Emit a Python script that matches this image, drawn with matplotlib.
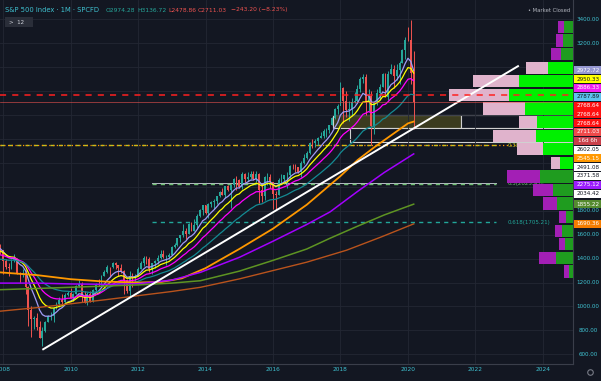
import numpy as np
import pandas as pd
import matplotlib
matplotlib.use("Agg")
import matplotlib.pyplot as plt
from matplotlib.patches import Rectangle
from matplotlib.lines import Line2D

# S&P 500 CFD, monthly bars Jan 2006 .. Mar 2020 (last bar still open)
start_year = 2006
prev_close_2005 = 1248.3
last_open = 2974.28
closes = [1280.1, 1280.7, 1294.8, 1310.6, 1270.1, 1270.2, 1276.7, 1303.8, 1335.9, 1377.9, 1400.6, 1418.3,
          1438.2, 1406.8, 1420.9, 1482.4, 1530.6, 1503.4, 1455.3, 1474.0, 1526.8, 1549.4, 1481.1, 1468.4,
          1378.6, 1330.6, 1322.7, 1385.6, 1400.4, 1280.0, 1267.4, 1282.8, 1166.4, 968.8, 896.2, 903.3,
          825.9, 735.1, 797.9, 872.8, 919.1, 919.3, 987.5, 1020.6, 1057.1, 1036.2, 1095.6, 1115.1,
          1073.9, 1104.5, 1169.4, 1186.7, 1089.4, 1030.7, 1101.6, 1049.3, 1141.2, 1183.3, 1180.6, 1257.6,
          1286.1, 1327.2, 1325.8, 1363.6, 1345.2, 1320.6, 1292.3, 1218.9, 1131.4, 1253.3, 1247.0, 1257.6,
          1312.4, 1365.7, 1408.5, 1397.9, 1310.3, 1362.2, 1379.3, 1406.6, 1440.7, 1412.2, 1416.2, 1426.2,
          1498.1, 1514.7, 1569.2, 1597.6, 1630.7, 1606.3, 1685.7, 1633.0, 1681.6, 1756.5, 1805.8, 1848.4,
          1782.6, 1859.5, 1872.3, 1884.0, 1923.6, 1960.2, 1930.7, 2003.4, 1972.3, 2018.1, 2067.6, 2058.9,
          1995.0, 2104.5, 2067.9, 2085.5, 2107.4, 2063.1, 2103.8, 1972.2, 1920.0, 2079.4, 2080.4, 2043.9,
          1940.2, 1932.2, 2059.7, 2065.3, 2097.0, 2098.9, 2173.6, 2171.0, 2168.3, 2126.2, 2198.8, 2238.8,
          2278.9, 2363.6, 2362.7, 2384.2, 2411.8, 2423.4, 2470.3, 2471.7, 2519.4, 2575.3, 2647.6, 2673.6,
          2823.8, 2713.8, 2640.9, 2648.1, 2705.3, 2718.4, 2816.3, 2901.5, 2914.0, 2711.7, 2760.2, 2506.9,
          2704.1, 2784.5, 2834.4, 2945.8, 2752.1, 2941.8, 2980.4, 2926.5, 2976.7, 3037.6, 3141.0, 3230.8,
          3225.5, 2954.2, 2711.03]
highs = [1295, 1297, 1310, 1318, 1326, 1284, 1280, 1310, 1340, 1389, 1407, 1431,
         1441, 1461, 1438, 1499, 1535, 1541, 1556, 1503, 1538, 1576, 1553, 1523,
         1471, 1396, 1359, 1397, 1440, 1404, 1292, 1313, 1304, 1168, 1007, 919,
         944, 876, 832, 878, 930, 956, 996, 1040, 1080, 1101, 1113, 1130,
         1150, 1113, 1181, 1220, 1206, 1132, 1120, 1129, 1149, 1196, 1228, 1263,
         1303, 1345, 1333, 1370, 1371, 1346, 1357, 1307, 1230, 1293, 1277, 1269,
         1333, 1378, 1419, 1423, 1415, 1364, 1392, 1426, 1475, 1470, 1434, 1448,
         1509, 1530, 1570, 1598, 1687, 1654, 1698, 1709, 1730, 1775, 1814, 1849,
         1850, 1867, 1884, 1897, 1925, 1968, 1991, 2005, 2019, 2019, 2075, 2093,
         2064, 2120, 2118, 2126, 2135, 2130, 2133, 2113, 2021, 2094, 2117, 2104,
         2038, 1963, 2073, 2111, 2100, 2121, 2178, 2194, 2188, 2169, 2214, 2278,
         2301, 2371, 2401, 2398, 2418, 2454, 2484, 2491, 2520, 2582, 2657, 2695,
         2873, 2835, 2801, 2718, 2742, 2791, 2848, 2916, 2941, 2940, 2815, 2800,
         2708, 2814, 2861, 2949, 2954, 2964, 3028, 3014, 3022, 3050, 3154, 3248,
         3338, 3393, 3136.72]
lows = [1245, 1253, 1268, 1280, 1245, 1219, 1224, 1261, 1291, 1327, 1360, 1385,
        1403, 1389, 1364, 1416, 1479, 1484, 1440, 1371, 1439, 1489, 1407, 1435,
        1270, 1316, 1257, 1312, 1373, 1272, 1200, 1248, 1107, 840, 741, 815,
        805, 735, 666, 783, 866, 889, 869, 978, 992, 1020, 1029, 1086,
        1071, 1045, 1101, 1165, 1040, 1029, 1011, 1040, 1039, 1132, 1174, 1174,
        1257, 1282, 1249, 1320, 1312, 1258, 1283, 1101, 1115, 1075, 1159, 1202,
        1257, 1312, 1341, 1358, 1292, 1267, 1325, 1355, 1397, 1403, 1343, 1399,
        1426, 1485, 1501, 1536, 1581, 1560, 1605, 1627, 1633, 1646, 1746, 1768,
        1770, 1737, 1834, 1814, 1860, 1915, 1930, 1905, 1964, 1821, 2001, 1973,
        1988, 1981, 2040, 2048, 2067, 2056, 2044, 1867, 1872, 1893, 2019, 1993,
        1812, 1810, 1932, 2034, 2026, 1992, 2074, 2148, 2120, 2114, 2084, 2187,
        2234, 2271, 2322, 2329, 2352, 2405, 2407, 2417, 2446, 2515, 2566, 2605,
        2683, 2533, 2585, 2553, 2595, 2698, 2699, 2796, 2864, 2603, 2631, 2347,
        2444, 2682, 2722, 2834, 2751, 2729, 2940, 2822, 2892, 2855, 3036, 3070,
        3215, 2855, 2478.86]

# short EMAs computed from the closes
ema_spans = [8, 13, 21, 34]
ema_colors = ['#a09cf5', '#ffff00', '#ff00ff', '#148b93']

# long EMAs (time in years, price)
ema55_x = [2007.9, 2009.0, 2010.0, 2011.0, 2012.0, 2012.7, 2013.3, 2014.0, 2015.0, 2016.0, 2017.0, 2018.0, 2018.5, 2019.0, 2019.5, 2020.0, 2020.17]
ema55_y = [1285, 1262, 1228, 1208, 1200, 1205, 1235, 1320, 1480, 1650, 1850, 2090, 2222, 2330, 2430, 2530, 2545]
ema89_x = [2007.9, 2009.0, 2010.0, 2011.0, 2012.0, 2013.0, 2013.85, 2015.0, 2016.0, 2017.0, 2017.69, 2018.5, 2019.3, 2020.17]
ema89_y = [1195, 1195, 1188, 1185, 1190, 1220, 1285, 1410, 1545, 1685, 1790, 1960, 2120, 2275]
ema144_x = [2007.9, 2009.0, 2010.0, 2011.0, 2012.0, 2013.0, 2013.85, 2015.0, 2016.0, 2017.0, 2017.69, 2018.5, 2019.3, 2020.17]
ema144_y = [1140, 1150, 1160, 1170, 1180, 1195, 1215, 1295, 1385, 1480, 1570, 1670, 1765, 1855]
ema200_x = [2007.9, 2009.0, 2010.0, 2011.0, 2012.0, 2013.0, 2013.85, 2015.0, 2016.0, 2017.0, 2018.18, 2019.2, 2020.17]
ema200_y = [960, 990, 1022, 1055, 1090, 1125, 1160, 1230, 1300, 1370, 1470, 1580, 1690]

# drawings
trend_x = [2009.19, 2023.26]
trend_y = [642, 3008]
red_level = 2768.64
fib_names = ['0.382', '0.5', '0.618']
fib_prices = [2346.72, 2025.95, 1705.21]
fib_colors = ['#b7c92c', '#6cc070', '#22a699']
fib_x = [2012.4, 2022.6]
dec18_low = 2346.58
hline_2034 = 2034.42
box1 = (2017.78, 2021.57, 2491.08, 2602.05)
box2 = (2018.28, 2491.08, 2371.58)

# visible range volume profile (24 rows from the 2009 low to the 2020 high)
vp_low = 666.79
vp_row = 113.6
vp_rows = list(range(5, 24))
vp_up = [4, 17, 8, 11, 7, 16, 20, 33, 13, 30, 37, 36, 48, 64, 54, 25, 12, 10, 9]
vp_down = [5, 17, 6, 7, 7, 14, 20, 33, 9, 26, 43, 18, 42, 60, 46, 22, 10, 7, 6]
vp_in_va = [0, 0, 0, 0, 0, 0, 0, 0, 1, 1, 1, 1, 1, 1, 1, 1, 0, 0, 0]

# price scale labels
label_vals = [2972.72, 2950.33, 2886.33, 2787.89, 2768.64, 2768.64, 2768.64, 2711.03,
              2602.05, 2545.15, 2491.08, 2371.58, 2275.12, 2034.42, 1855.22, 1690.36]
label_bg = ['#9698d2', '#ffff00', '#f01ff0', '#5cc3ee', '#ff1010', '#ff1010', '#ff1010', '#ef4a4a',
            '#ffffff', '#ff9800', '#ffffff', '#ffffff', '#9b1cff', '#ffffff', '#558b2f', '#f57c00']
label_fg = ['white', '#131722', 'white', '#131722', 'white', 'white', 'white', 'white',
            '#131722', 'white', '#131722', '#131722', 'white', '#131722', 'white', 'white']
countdown = '16d 6h'

bg = '#131722'
grid_c = '#232733'
axis_txt = '#3fc1d0'
W, H = 601, 381
lab_fs = 4.1

n = len(closes)
x = start_year + np.arange(n) / 12
o = np.array([prev_close_2005] + closes[:-1])
o[-1] = last_open
c = np.array(closes)
hi = np.array(highs, dtype=float)
lo = np.array(lows, dtype=float)

fig = plt.figure(figsize=(W / 100, H / 100), dpi=100, facecolor=bg)
ax = fig.add_axes([0, 17 / H, 573 / W, 364 / H])
ax.set_facecolor(bg)
ax.set_xlim(2007.91, 2024.89)
ax.set_ylim(519, 3561)
ax.set_xticks(range(2008, 2025, 2))
ax.set_yticks(range(600, 3600, 200))
ax.grid(True, color=grid_c, lw=0.6, zorder=0)
ax.tick_params(length=0, labelsize=4.2, labelcolor=axis_txt, pad=2.5)
ax.tick_params(axis='y', labelleft=False)
for s in ['top', 'left']:
    ax.spines[s].set_visible(False)
for s in ['right', 'bottom']:
    ax.spines[s].set_color('#3a3e4a')
    ax.spines[s].set_linewidth(0.8)

# rectangles
ax.add_patch(Rectangle((box1[0], box1[2]), box1[1] - box1[0], box1[3] - box1[2],
                       fc='#3b3b1f', ec='#d0d0d0', lw=0.8, zorder=1))
ax.add_patch(Rectangle((box1[1], box1[2]), 2024.89 - box1[1], box1[3] - box1[2],
                       fc=bg, ec='#d0d0d0', lw=0.8, zorder=1))
ax.add_patch(Rectangle((box2[0], box2[2]), 2024.89 - box2[0], box2[1] - box2[2],
                       fc=bg, ec='#d0d0d0', lw=0.8, zorder=1))

# fib levels and horizontal lines
ax.plot([2007.91, fib_x[1]], [fib_prices[0]] * 2, color=fib_colors[0], lw=1.0, dashes=(3, 3), zorder=2)
ax.plot([2007.91, 2024.89], [dec18_low] * 2, color='#ff9800', lw=0.9, dashes=(1, 2), zorder=2)
ax.plot(fib_x, [hline_2034] * 2, color='#b8bcc6', lw=0.7, zorder=2)
for name, p, col in zip(fib_names[1:], fib_prices[1:], fib_colors[1:]):
    ax.plot(fib_x, [p, p], color=col, lw=1.0, dashes=(3, 3), zorder=2)
for name, p, col in zip(fib_names, fib_prices, fib_colors):
    ax.text(2022.95, p, f'{name}({p:.2f})', color=col, fontsize=4.0, va='center', ha='left', zorder=2)

# candles
up = c >= o
col = np.where(up, '#26a69a', '#ef5350')
ax.vlines(x, lo, hi, colors=col, lw=0.7, zorder=3)
ax.bar(x, c - o, bottom=o, width=0.66 / 12, color=col, lw=0, zorder=3)

# moving averages
cs = pd.Series(c)
for span, ec in zip(ema_spans, ema_colors):
    ax.plot(x, cs.ewm(span=span, adjust=False).mean(), color=ec, lw=0.9, zorder=4)
ax.plot(ema55_x, ema55_y, color='#ff9800', lw=1.3, zorder=4)
ax.plot(ema89_x, ema89_y, color='#a300ff', lw=1.1, zorder=4)
ax.plot(ema144_x, ema144_y, color='#5e9422', lw=1.1, zorder=4)
ax.plot(ema200_x, ema200_y, color='#b9531c', lw=1.0, zorder=4)

# volume profile, anchored to the right edge
ax_vp = ax.twiny()
ax_vp.set_xlim(573, 0)
ax_vp.set_axis_off()
yc = [vp_low + (r + 0.5) * vp_row for r in vp_rows]
up_c = ['#00f000' if v else '#1f9c1f' for v in vp_in_va]
dn_c = ['#e0b3cc' if v else '#a31fb5' for v in vp_in_va]
ax_vp.barh(yc, vp_up, height=vp_row * 0.9, left=0, color=up_c, lw=0)
ax_vp.barh(yc, vp_down, height=vp_row * 0.9, left=vp_up, color=dn_c, lw=0)

# drawings on top
ax_top = fig.add_axes(ax.get_position(), sharex=ax, sharey=ax, label='drawings')
ax_top.set_axis_off()
ax_top.plot(trend_x, trend_y, color='white', lw=1.4)
ax_top.axhline(red_level, color='#ff2020', lw=1.1, dashes=(4, 4))
ax_top.axhline(closes[-1], color='#ef5350', lw=0.5, alpha=0.8)

# stacked price labels on the right scale
slot = 8.8
next_free = -1e9
centres = []
for v, b, f in zip(label_vals, label_bg, label_fg):
    t_true = H - ax.transData.transform((2010, v))[1]
    top = max(t_true - slot / 2, next_free)
    texts = [f'{v:.2f}']
    if v == closes[-1]:
        texts.append(countdown)
    for k, s in enumerate(texts):
        tt = top + k * slot
        fc = b if k == 0 else '#c9404a'
        fig.add_artist(Rectangle((574 / W, 1 - (tt + slot - 0.4) / H), 27 / W, (slot - 0.8) / H,
                                 transform=fig.transFigure, fc=fc, ec='none'))
        fig.text(588 / W, 1 - (tt + slot / 2) / H, s, color=f, fontsize=lab_fs, ha='center', va='center')
        centres.append(tt + slot / 2)
    next_free = top + len(texts) * slot

for p in range(600, 3600, 200):
    t = H - ax.transData.transform((2010, p))[1]
    if t < 4 or t > 360 or any(abs(t - cc) < 6 for cc in centres):
        continue
    fig.text(588 / W, 1 - t / H, f'{p:.2f}', color=axis_txt, fontsize=lab_fs, ha='center', va='center')

# header
fig.text(5 / W, 1 - 10 / H, 'S&P 500 Index · 1M · SPCFD', color='#3fc1d0', fontsize=4.9, va='center')
fig.text(106 / W, 1 - 10 / H, 'O2974.28', color='#26a69a', fontsize=4.3, va='center')
fig.text(137 / W, 1 - 10 / H, 'H3136.72', color='#26a69a', fontsize=4.3, va='center')
fig.text(168 / W, 1 - 10 / H, 'L2478.86', color='#ef5350', fontsize=4.3, va='center')
fig.text(198 / W, 1 - 10 / H, 'C2711.03', color='#ef5350', fontsize=4.3, va='center')
fig.text(231 / W, 1 - 10 / H, '−243.20 (−8.23%)', color='#ef5350', fontsize=4.3, va='center')
fig.add_artist(Rectangle((5 / W, 1 - 27 / H), 28 / W, 10 / H, transform=fig.transFigure,
                         fc='#2a2e39', ec='none'))
fig.text(9 / W, 1 - 22 / H, '>  12', color='#d1d4dc', fontsize=4.0, va='center')
fig.text(528 / W, 1 - 11 / H, '• Market Closed', color='#b2b5be', fontsize=3.8, va='center')
fig.add_artist(Line2D([590 / W], [1 - 372 / H], marker='o', ms=4, mfc='none', mec='#787b86',
                      mew=0.8, transform=fig.transFigure))

fig.savefig('out.png', dpi=100, facecolor=bg)
